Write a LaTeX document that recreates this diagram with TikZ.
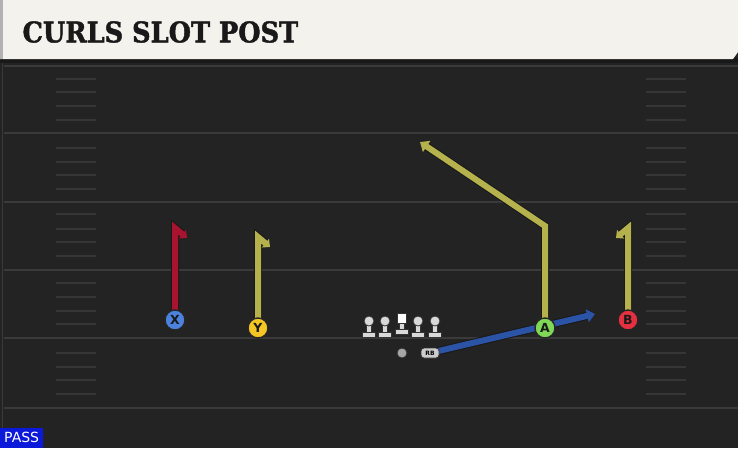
\documentclass[tikz,border=0pt]{standalone}
\usepackage{fontspec}
\setsansfont{DejaVu Sans}
\newfontfamily\titlefont{DejaVu Serif Condensed}[BoldFeatures={FakeBold=1.5}]
\usetikzlibrary{arrows.meta, positioning, shapes, backgrounds}
\definecolor{field}{HTML}{232323}
\definecolor{yardline}{HTML}{3A3A3A}
\definecolor{hashline}{HTML}{363636}
\definecolor{header}{HTML}{F4F2EC}
\definecolor{routered}{HTML}{A8132F}
\definecolor{routeolive}{HTML}{B5B24E}
\definecolor{routeblue}{HTML}{2B53A6}
\definecolor{xblue}{HTML}{4C82DD}
\definecolor{yyellow}{HTML}{F3C623}
\definecolor{agreen}{HTML}{7FD957}
\definecolor{bred}{HTML}{E5303F}
\definecolor{passblue}{HTML}{0B19DA}
\tikzset{
	every node/.style={
		align=center,
	},
}
\tikzstyle{every player} = [circle, draw=black!85, line width=1.4pt, minimum size=20pt, inner sep=0pt, text=black!90, font=\sffamily\bfseries\fontsize{12.5}{12.5}\selectfont]
\tikzstyle{every route} = [line width=6pt, line join=miter, preaction={draw=black!90, line width=8pt}]
\tikzstyle{every curl} = [-{Triangle[length=6pt, width=11pt]}]
\tikzstyle{every lineman} = [fill=gray!30, draw=black!80, line width=0.8pt]

\begin{document}
\begin{tikzpicture}[x=1pt, y=-1pt]
    \useasboundingbox (0,0) rectangle (738,448);

    % header
    \fill[header] (0,0) -- (738,0) -- (738,52) -- (733,59) -- (0,59) -- cycle;
    \fill[gray!60] (0,0) rectangle (3,59);
    \node[anchor=west, text=black!90, font=\titlefont\bfseries\fontsize{28.5}{28.5}\selectfont] (title) at (19,32) {CURLS SLOT POST};

    % line
    \foreach \x in {369,385,418,435} {
        \draw[every lineman] (\x-6.5,337) rectangle (\x+6.5,332);
        \draw[every lineman] (\x-2.5,332) rectangle (\x+2.5,324);
        \draw[every lineman] (\x,321) circle (5);
    }
    \draw[every lineman] (395.5,334) rectangle (408.5,329);
    \draw[every lineman] (399.5,329) rectangle (404.5,323);
    \draw[fill=white, draw=black!80, line width=0.8pt] (397,313) rectangle (406,323);

    \node[circle, fill=gray!70, draw=black!80, line width=0.8pt, inner sep=0pt, minimum size=10pt] (qb) at (402,353) {};
    \node[rectangle, rounded corners=3pt, fill=gray!40, draw=black!80, line width=0.8pt, minimum width=18pt, minimum height=10pt, inner sep=0pt, font=\sffamily\bfseries\fontsize{6}{6}\selectfont] (rb) at (430,353) {RB};

    % receivers
    \node[every player, fill=xblue] (x) at (175,320) {X};
    \node[every player, fill=yyellow] (y) at (258,328) {Y};
    \node[every player, fill=agreen] (a) at (545,328) {A};
    \node[every player, fill=bred] (b) at (628,320) {B};

    \coordinate (xtop) at (175,228);
    \coordinate (xend) at (187,238);
    \coordinate (ytop) at (258,237);
    \coordinate (yend) at (270,247);
    \coordinate (atop) at (545,226);
    \coordinate (aend) at (420,142);
    \coordinate (btop) at (628,228);
    \coordinate (bend) at (616,238);
    \coordinate (rbend) at (595,314);

    \begin{scope}[on background layer]
    \fill[field] (0,0) rectangle (738,448);
    % field lines
    \draw[yardline, line width=1pt] (2,62) -- (2,448);
    \foreach \y in {66,133,202,270,338,408}
        \draw[yardline, line width=2pt] (4,\y) -- (738,\y);
    \foreach \y in {79,92,106,120,148,162,175,189,214,229,242,256,283,297,311,324,353,367,380,394} {
        \draw[hashline, line width=1.8pt] (56,\y) -- (96,\y);
        \draw[hashline, line width=1.8pt] (646,\y) -- (686,\y);
    }
    \fill[black!90] (0,58) rectangle (738,63);

    % routes
    \draw[every route, routered, every curl] (x.center) -- (xtop) -- (xend);
    \draw[every route, routeolive, every curl] (y.center) -- (ytop) -- (yend);
    \draw[every route, routeolive, every curl] (b.center) -- (btop) -- (bend);
    \draw[every route, routeolive, -{Triangle[length=8pt, width=13pt]}] (a.center) -- (atop) -- (aend);
    \draw[every route, routeblue, -{Triangle[length=8pt, width=13pt]}] (rb.center) -- (rbend);
    \end{scope}

    % play type
    \node[anchor=south west, fill=passblue, text=white, inner xsep=4pt, inner ysep=2pt, minimum height=20pt, font=\sffamily\fontsize{14}{14}\selectfont] (pass) at (0,448) {PASS};
\end{tikzpicture}
\end{document}
